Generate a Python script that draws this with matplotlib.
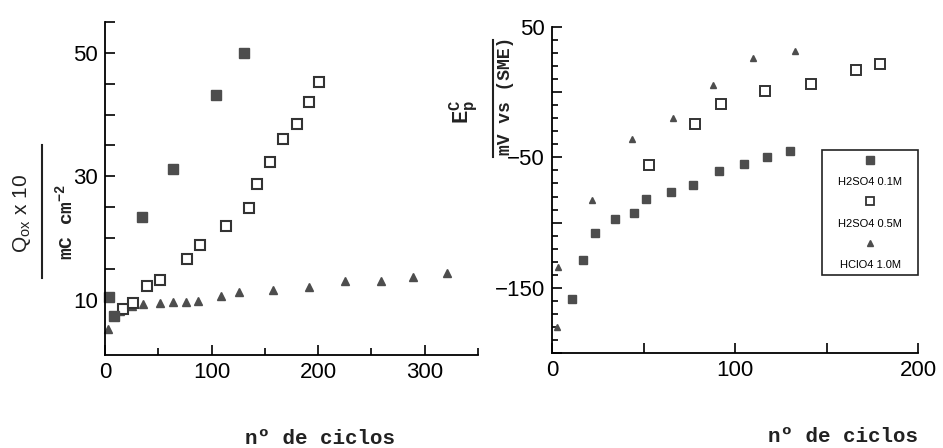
import matplotlib
matplotlib.use('Agg')
import matplotlib.pyplot as plt
from matplotlib.lines import Line2D
from matplotlib.patches import Rectangle

# left panel: Q_ox x 10 vs number of cycles
q_fill_x = [4, 8, 35, 64, 104, 130]
q_fill_y = [10.4, 7.4, 23.4, 31.2, 43.1, 50.0]
q_open_x = [17, 26, 39, 52, 77, 89, 114, 135, 143, 155, 167, 180, 191, 201]
q_open_y = [8.5, 9.4, 12.2, 13.2, 16.5, 18.9, 21.9, 24.8, 28.8, 32.3, 36.1, 38.4, 42.0, 45.2]
q_tri_x = [3, 14, 25, 36, 52, 64, 76, 87, 109, 126, 158, 191, 225, 259, 289, 321]
q_tri_y = [5.2, 8.2, 8.9, 9.3, 9.5, 9.6, 9.6, 9.7, 10.5, 11.2, 11.5, 12.0, 13.0, 13.0, 13.6, 14.3]

# right panel: Ep^C (mV vs SME) vs number of cycles
e_fill_x = [10.7, 17, 23.5, 34.4, 44.8, 51.4, 64.8, 77, 91.3, 105, 117.3, 130]
e_fill_y = [-158.7, -128.8, -108.2, -97.4, -92.3, -82, -76.5, -71.2, -60.5, -55.4, -49.5, -45.2]
e_open_x = [53, 78, 92.3, 116.4, 141.5, 166, 179.2]
e_open_y = [-55.9, -24.7, -8.9, 1.3, 6.4, 16.8, 21.9]
e_tri_x = [2.6, 3.3, 21.8, 43.5, 66, 88.2, 110, 133]
e_tri_y = [-179.8, -134, -82.9, -36.2, -19.6, 5.4, 26.3, 31.4]

legend_labels = ['H2SO4 0.1M', 'H2SO4 0.5M', 'HClO4 1.0M']

tick_font = ['Liberation Sans', 'DejaVu Sans']
mono = ['Liberation Mono', 'DejaVu Sans Mono']
grey = '#4d4d4d'
ink = '#222222'

fig = plt.figure(figsize=(9.43, 4.48), dpi=100)
W, H = 943, 448
ax1 = fig.add_axes([105 / W, 1 - 355 / H, (478 - 105) / W, (355 - 22) / H])
ax2 = fig.add_axes([552 / W, 1 - 353 / H, (918 - 552) / W, (353 - 27) / H])

for ax in (ax1, ax2):
    ax.spines['top'].set_visible(False)
    ax.spines['right'].set_visible(False)
    ax.spines['left'].set_linewidth(1.3)
    ax.spines['bottom'].set_linewidth(1.3)
    ax.tick_params(which='both', direction='in', width=1.2, pad=5, labelsize=16)
    ax.tick_params(which='major', length=7)
    ax.tick_params(which='minor', length=5)

# left
ax1.plot(q_tri_x, q_tri_y, '^', ms=6, color=grey, mec=grey, clip_on=False)
ax1.plot(q_open_x, q_open_y, 's', ms=7.5, mfc='white', mec='#333333', mew=1.5, clip_on=False)
ax1.plot(q_fill_x, q_fill_y, 's', ms=7.5, color=grey, mec=grey, clip_on=False)
ax1.set_xlim(0, 350)
ax1.set_ylim(1, 55)
ax1.set_xticks([0, 100, 200, 300])
ax1.set_xticks([50, 150, 250, 350], minor=True)
ax1.set_yticks([10, 30, 50])
ax1.set_yticks([15, 20, 25, 35, 40, 45, 55], minor=True)
ax1.tick_params(axis='y', which='minor', length=7)

# right
ax2.plot(e_tri_x, e_tri_y, '^', ms=5, color=grey, mec=grey, clip_on=False)
ax2.plot(e_open_x, e_open_y, 's', ms=6.5, mfc='white', mec='#333333', mew=1.4, clip_on=False)
ax2.plot(e_fill_x, e_fill_y, 's', ms=6, color=grey, mec=grey, clip_on=False)
ax2.set_xlim(0, 200)
ax2.set_ylim(-200, 50)
ax2.set_xticks([0, 100, 200])
ax2.set_xticks([50, 150], minor=True)
ax2.tick_params(axis='x', which='minor', length=7)
ax2.set_yticks([-200, -150, -100, -50, 0, 50])
ax2.set_yticklabels(['', '\u2212150', '', '\u221250', '', '50'])
ax2.set_yticks(list(range(-190, 50, 10)), minor=True)
ax2.tick_params(axis='y', which='minor', length=4)

for ax in (ax1, ax2):
    for lab in ax.get_xticklabels() + ax.get_yticklabels():
        lab.set_family(tick_font)

# legend drawn as a box with the symbol above each label
ax2.add_patch(Rectangle((0.738, 0.239), 0.262, 0.384, transform=ax2.transAxes,
                        fill=False, lw=1.2, ec=ink, clip_on=False))
key_styles = [dict(marker='s', ms=5.5, color=grey, mec=grey),
              dict(marker='s', ms=5.5, mfc='white', mec='#333333', mew=1.3),
              dict(marker='^', ms=5, color=grey, mec=grey)]
for i, (lab, st) in enumerate(zip(legend_labels, key_styles)):
    yk = 0.592 - i * 0.127
    ax2.plot([0.869], [yk], linestyle='none', transform=ax2.transAxes, clip_on=False, **st)
    ax2.text(0.869, yk - 0.068, lab, transform=ax2.transAxes, ha='center', va='center',
             fontsize=8, family=tick_font)

# axis titles
fig.text(320 / W, 1 - 438 / H, 'n\u00ba de ciclos', ha='center', va='center',
         family=mono, fontsize=15, weight='bold', color=ink)
fig.text(843 / W, 1 - 436 / H, 'n\u00ba de ciclos', ha='center', va='center',
         family=mono, fontsize=15, weight='bold', color=ink)

# left y label as a fraction
fig.text(22 / W, 1 - 213 / H, r'Q$_{\mathregular{ox}}$ x 10', rotation=90, ha='center',
         va='center', fontsize=15, family='Liberation Sans', color=ink)
fig.add_artist(Line2D([42 / W, 42 / W], [1 - 145 / H, 1 - 278 / H], color=ink, lw=1.5))
fig.text(66 / W, 1 - 222 / H, r'mC cm$^{\mathregular{-2}}$', rotation=90, ha='center',
         va='center', fontsize=14, family=mono, weight='bold', color=ink)

# right y label as a fraction
fig.text(464 / W, 1 - 112 / H, r'E$_{\mathregular{p}}^{\mathregular{C}}$', rotation=90,
         ha='center', va='center', fontsize=16, family=mono, weight='bold', color=ink)
fig.add_artist(Line2D([493 / W, 493 / W], [1 - 40 / H, 1 - 157 / H], color=ink, lw=1.5))
fig.text(505 / W, 1 - 96 / H, 'mV vs (SME)', rotation=90, ha='center', va='center',
         fontsize=13, family=mono, weight='bold', color=ink)

fig.savefig('out.png', dpi=100)
